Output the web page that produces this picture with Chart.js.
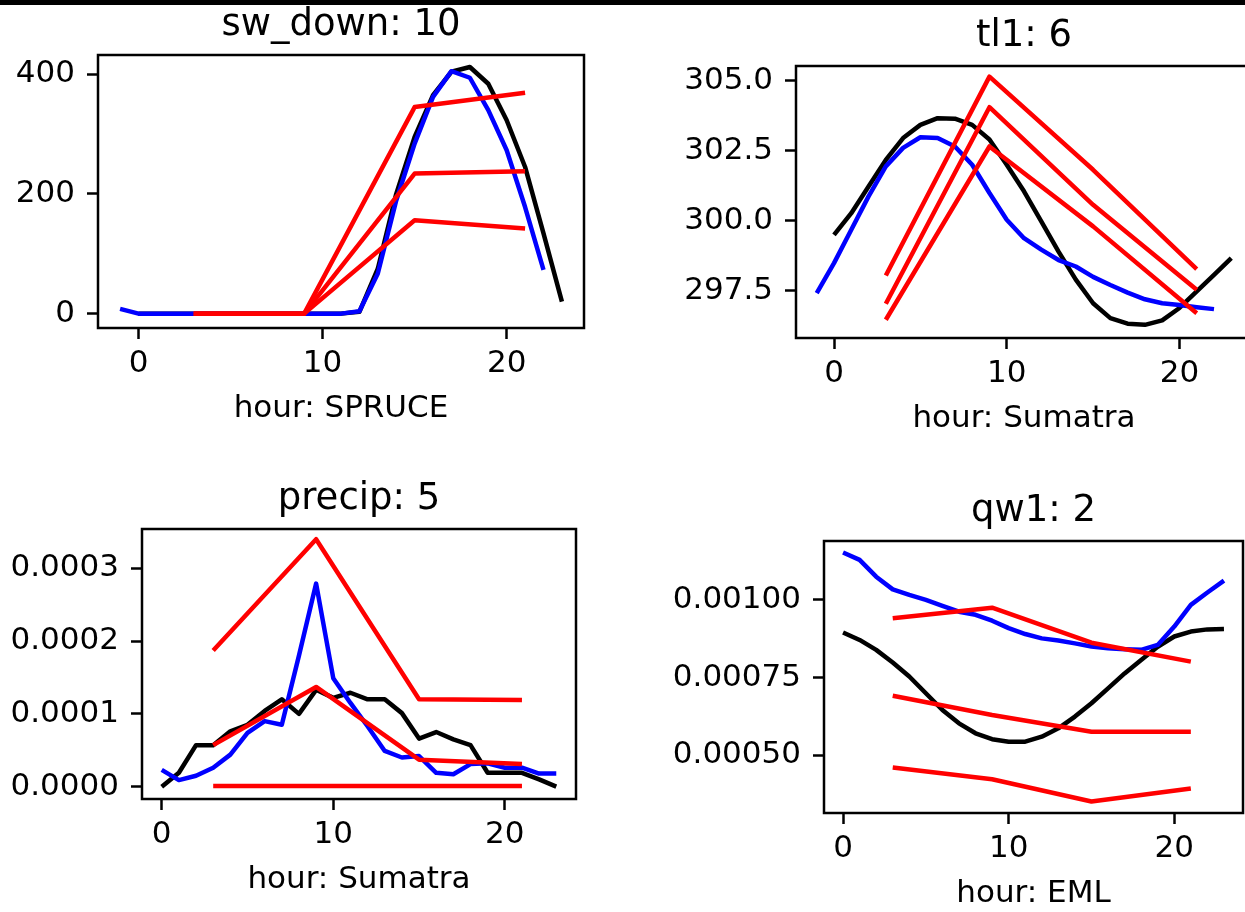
<!DOCTYPE html>
<html>
<head>
<meta charset="utf-8">
<script src="https://cdn.jsdelivr.net/npm/chart.js"></script>
<style>
  html, body { margin: 0; padding: 0; background: #fff; overflow: hidden; }
  #barra { position: absolute; left: 0; top: 0; width: 1245px; height: 5px; background: #000; }
  canvas { position: absolute; }
</style>
</head>
<body>
<div id="barra"></div>
<canvas id="c1"></canvas>
<canvas id="c2"></canvas>
<canvas id="c3"></canvas>
<canvas id="c4"></canvas>
<script>
// horas
const horas = [0,1,2,3,4,5,6,7,8,9,10,11,12,13,14,15,16,17,18,19,20,21,22,23]
const horasMenosUno = [-1,0,1,2,3,4,5,6,7,8,9,10,11,12,13,14,15,16,17,18,19,20,21,22]
const horasRojo = [3,9,15,21]
const xTicks = [0,10,20]
const xLabels = ['0','10','20']

// sw_down
const swNegro = [0,0,0,0,0,0,0,0,0,0,0,0,3,75,200,295,365,404,412,384,323,245,134,20]
const swAzul = [8,0,0,0,0,0,0,0,0,0,0,0,0,4,67,189,284,362,405,394,340,273,178,73]
const swRojo1 = [0,0,345,369]
const swRojo2 = [0,0,234,238]
const swRojo3 = [0,0,156,142]
const swYTicks = [0,200,400]
const swYLabels = ['0','200','400']

// tl1
const tlNegro = [299.5,300.27,301.22,302.17,302.95,303.42,303.66,303.64,303.42,302.9,302.0,301.05,299.98,298.9,297.9,297.06,296.53,296.33,296.29,296.45,296.89,297.48,298.07,298.67]
const tlAzul = [297.42,298.49,299.68,300.87,301.94,302.6,302.98,302.95,302.65,302.0,300.99,300.04,299.38,298.97,298.6,298.37,298.0,297.71,297.44,297.2,297.06,297.0,296.92,296.85]
const tlRojo1 = [298.05,305.14,301.82,298.28]
const tlRojo2 = [297.04,304.05,300.57,297.54]
const tlRojo3 = [296.47,302.65,299.8,296.7]
const tlYTicks = [297.5,300,302.5,305]
const tlYLabels = ['297.5','300.0','302.5','305.0']

// precip
const prNegro = [0,0.000019,0.000057,0.000057,0.000076,0.000085,0.000104,0.00012,0.0001,0.000133,0.000122,0.000129,0.00012,0.00012,0.000101,0.000066,0.000075,0.000065,0.000057,0.000019,0.000019,0.000019,0.00001,0]
const prAzul = [0.000023,0.000009,0.000015,0.000026,0.000044,0.000074,0.00009,0.000085,0.00018,0.000279,0.000149,0.000115,0.000083,0.000049,0.00004,0.000042,0.000019,0.000017,0.000031,0.000032,0.000026,0.000026,0.000018,0.000018]
const prRojo1 = [0.000187,0.00034,0.00012,0.000119]
const prRojo2 = [0.000057,0.000137,0.000037,0.000031]
const prRojo3 = [0.000001,0.000001,0.000001,0.000001]
const prYTicks = [0,0.0001,0.0002,0.0003]
const prYLabels = ['0.0000','0.0001','0.0002','0.0003']

// qw1
const qwNegro = [0.000895,0.000871,0.000839,0.000798,0.000753,0.000699,0.000645,0.000602,0.00057,0.000551,0.000543,0.000543,0.000559,0.000586,0.000624,0.000667,0.000715,0.000763,0.000806,0.000849,0.000882,0.000898,0.000905,0.000906]
const qwAzul = [0.001153,0.001129,0.001075,0.001034,0.001016,0.001,0.000981,0.000962,0.000952,0.000933,0.000909,0.00089,0.000876,0.000869,0.00086,0.00085,0.000844,0.000841,0.000839,0.000855,0.000914,0.000984,0.001024,0.001062]
const qwRojo1 = [0.000941,0.000975,0.000862,0.000801]
const qwRojo2 = [0.000691,0.000629,0.000575,0.000575]
const qwRojo3 = [0.00046,0.000422,0.00035,0.000392]
const qwYTicks = [0.0005,0.00075,0.001]
const qwYLabels = ['0.00050','0.00075','0.00100']

Chart.defaults.font.family = "'DejaVu Sans', sans-serif"
Chart.defaults.color = '#000'

const ALTO_EJE_X = 100

function puntos(xs, ys){
    return xs.map((x, i) => ({x: x, y: ys[i]}))
}

function linea(xs, ys, color){
    return {
        data: puntos(xs, ys),
        borderColor: color,
        borderWidth: 4.5,
        pointRadius: 0,
        tension: 0,
        fill: false,
        borderJoinStyle: 'round'
    }
}

// caja negra alrededor del area
const marco = {
    id: 'marco',
    afterDatasetsDraw(chart){
        const a = chart.chartArea
        const ctx = chart.ctx
        ctx.save()
        ctx.lineWidth = 2.5
        ctx.strokeStyle = '#000'
        ctx.strokeRect(a.left, a.top, a.right - a.left, a.bottom - a.top)
        ctx.restore()
    }
}

const titulo = {
    id: 'titulo',
    afterDraw(chart, args, opts){
        const a = chart.chartArea
        const ctx = chart.ctx
        ctx.save()
        ctx.font = "37px 'DejaVu Sans'"
        ctx.fillStyle = '#000'
        ctx.textAlign = 'center'
        ctx.textBaseline = 'alphabetic'
        ctx.fillText(opts.text, (a.left + a.right) / 2, a.top - 20)
        ctx.restore()
    }
}

function grid(){
    return {
        display: true,
        drawOnChartArea: false,
        drawTicks: true,
        tickLength: 11,
        tickWidth: 2.5,
        tickColor: '#000'
    }
}

function panel(p){
    const canvas = document.getElementById(p.id)
    const [bx, by, bw, bh] = p.caja
    const [L, T, R, B] = p.marco
    canvas.width = bw
    canvas.height = bh
    canvas.style.left = bx + 'px'
    canvas.style.top = by + 'px'
    canvas.style.width = bw + 'px'
    canvas.style.height = bh + 'px'

    let config = {
        type: 'line',
        data: { datasets: p.datasets },
        plugins: [marco, titulo],
        options: {
            responsive: false,
            animation: false,
            devicePixelRatio: 1,
            layout: {
                padding: { top: T - by, left: 0, right: bx + bw - R, bottom: by + bh - B - ALTO_EJE_X }
            },
            plugins: {
                legend: { display: false },
                tooltip: { enabled: false },
                titulo: { text: p.titulo }
            },
            scales: {
                x: {
                    type: 'linear',
                    min: p.xRango[0],
                    max: p.xRango[1],
                    afterBuildTicks: s => { s.ticks = xTicks.map(v => ({value: v})) },
                    afterFit: s => { s.height = ALTO_EJE_X },
                    ticks: {
                        callback: (v, i) => xLabels[i],
                        font: { size: 31 },
                        color: '#000',
                        padding: 6,
                        maxRotation: 0,
                        autoSkip: false
                    },
                    grid: grid(),
                    border: { display: false },
                    title: { display: true, text: p.xTitulo, font: { size: 31 }, color: '#000', padding: 0 }
                },
                y: {
                    type: 'linear',
                    min: p.yRango[0],
                    max: p.yRango[1],
                    afterBuildTicks: s => { s.ticks = p.yTicks.map(v => ({value: v})) },
                    afterFit: s => { s.width = L - bx },
                    ticks: {
                        callback: (v, i) => p.yLabels[i],
                        font: { size: 31 },
                        color: '#000',
                        padding: 12,
                        autoSkip: false
                    },
                    grid: grid(),
                    border: { display: false }
                }
            }
        }
    }
    return new Chart(canvas, config)
}

panel({
    id: 'c1', caja: [0, 0, 620, 460], marco: [98, 55, 584, 328],
    xRango: [-2.2, 24.2], yRango: [-24, 432],
    yTicks: swYTicks, yLabels: swYLabels,
    titulo: 'sw_down: 10', xTitulo: 'hour: SPRUCE',
    datasets: [
        linea(horasRojo, swRojo1, '#ff0000'),
        linea(horasRojo, swRojo2, '#ff0000'),
        linea(horasRojo, swRojo3, '#ff0000'),
        linea(horasMenosUno, swAzul, '#0000ff'),
        linea(horas, swNegro, '#000000')
    ]
})

panel({
    id: 'c2', caja: [620, 0, 640, 460], marco: [796, 66, 1252, 338],
    xRango: [-2.2, 24.2], yRango: [295.82, 305.52],
    yTicks: tlYTicks, yLabels: tlYLabels,
    titulo: 'tl1: 6', xTitulo: 'hour: Sumatra',
    datasets: [
        linea(horasRojo, tlRojo1, '#ff0000'),
        linea(horasRojo, tlRojo2, '#ff0000'),
        linea(horasRojo, tlRojo3, '#ff0000'),
        linea(horasMenosUno, tlAzul, '#0000ff'),
        linea(horas, tlNegro, '#000000')
    ]
})

panel({
    id: 'c3', caja: [0, 460, 620, 452], marco: [142, 529, 576, 799],
    xRango: [-1.15, 24.15], yRango: [-0.000017, 0.000354],
    yTicks: prYTicks, yLabels: prYLabels,
    titulo: 'precip: 5', xTitulo: 'hour: Sumatra',
    datasets: [
        linea(horasRojo, prRojo1, '#ff0000'),
        linea(horasRojo, prRojo2, '#ff0000'),
        linea(horasRojo, prRojo3, '#ff0000'),
        linea(horas, prAzul, '#0000ff'),
        linea(horas, prNegro, '#000000')
    ]
})

panel({
    id: 'c4', caja: [620, 460, 625, 452], marco: [824, 541, 1243, 813],
    xRango: [-1.15, 24.15], yRango: [0.000313, 0.00119],
    yTicks: qwYTicks, yLabels: qwYLabels,
    titulo: 'qw1: 2', xTitulo: 'hour: EML',
    datasets: [
        linea(horasRojo, qwRojo1, '#ff0000'),
        linea(horasRojo, qwRojo2, '#ff0000'),
        linea(horasRojo, qwRojo3, '#ff0000'),
        linea(horas, qwAzul, '#0000ff'),
        linea(horas, qwNegro, '#000000')
    ]
})
</script>
</body>
</html>
